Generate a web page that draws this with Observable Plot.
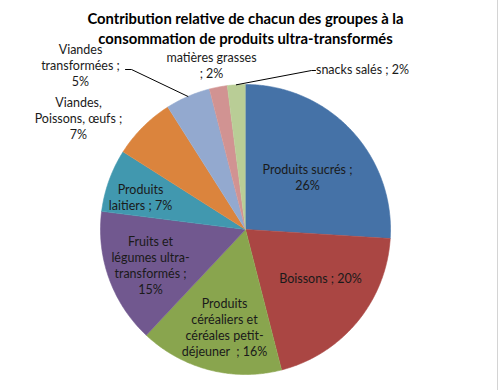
<!DOCTYPE html>
<html>
<head>
<meta charset="utf-8">
<script src="https://cdn.jsdelivr.net/npm/d3@7"></script>
<script src="https://cdn.jsdelivr.net/npm/@observablehq/plot@0.6"></script>
<style>
  html, body { margin: 0; padding: 0; background: #fff; }
  #wrap { position: relative; width: 499px; height: 390px; overflow: hidden; }
  #edge { position: absolute; left: 497px; top: 0; width: 1px; height: 390px; background: #d4d4d4; }
</style>
</head>
<body>
<div id="wrap"><div id="edge"></div></div>
<script>
// ---- data ----
const title = "Contribution relative de chacun des groupes à la\nconsommation de produits ultra-transformés";
const categories = [
  "Produits sucrés",
  "Boissons",
  "Produits céréaliers et céréales petit-déjeuner",
  "Fruits et légumes ultra-transformés",
  "Produits laitiers",
  "Viandes, Poissons, œufs",
  "Viandes transformées",
  "matières grasses",
  "snacks salés"
];
const values = [26, 20, 16, 15, 7, 7, 5, 2, 2];
const labelTexts = [
  "Produits sucrés ;\n26%",
  "Boissons ; 20%",
  "Produits\ncéréaliers et\ncéréales petit-\ndéjeuner  ; 16%",
  "Fruits et\nlégumes ultra-\ntransformés ;\n15%",
  "Produits\nlaitiers ; 7%",
  "Viandes,\nPoissons, œufs ;\n7%",
  "Viandes\ntransformées ;\n5%",
  "matières grasses\n; 2%",
  "snacks salés ; 2%"
];

// ---- style / layout ----
const colors = ["#4572A7", "#AA4643", "#89A54E", "#71588F", "#4198AF", "#DB843D", "#93A9CF", "#D19392", "#B9CD96"];
const W = 499, H = 390, CX = 245, CY = 229, R = 145;
const X = px => (px - CX) / R;
const Y = py => (CY - py) / R;
// label centres in pixels
const labelPos = [[307, 176], [320, 277], [224, 326], [150, 264], [140, 196], [78, 117], [80, 64], [211, 64], [362, 68]];
// leader lines: category index -> [elbow, label end] in pixels
const leaders = [
  {i: 6, pts: [[131, 69], [125, 69]]},
  {i: 8, pts: [[311, 70], [315, 70]]}
];

const rows = categories.map((c, i) => ({cat: c, value: values[i], label: labelTexts[i]}));
const arcs = d3.pie().sort(null).value(d => d.value)(rows);

const poly = [];
arcs.forEach(p => {
  const n = Math.max(2, Math.ceil((p.endAngle - p.startAngle) / (Math.PI / 360)));
  poly.push({cat: p.data.cat, x: 0, y: 0});
  for (let k = 0; k <= n; k++) {
    const a = p.startAngle + (p.endAngle - p.startAngle) * k / n;
    poly.push({cat: p.data.cat, x: Math.sin(a), y: Math.cos(a)});
  }
});

const labels = rows.map((d, i) => ({label: d.label, x: X(labelPos[i][0]), y: Y(labelPos[i][1])}));

const leaderPts = [];
leaders.forEach((l, j) => {
  const p = arcs[l.i];
  const mid = (p.startAngle + p.endAngle) / 2;
  leaderPts.push({g: j, x: Math.sin(mid), y: Math.cos(mid)});
  l.pts.forEach(q => leaderPts.push({g: j, x: X(q[0]), y: Y(q[1])}));
});

const chart = Plot.plot({
  width: W, height: H,
  margin: 0,
  x: {domain: [X(0), X(W)], axis: null},
  y: {domain: [Y(H), Y(0)], axis: null},
  color: {type: "ordinal", domain: categories, range: colors},
  style: {background: "transparent", fontFamily: "Lato, sans-serif"},
  marks: [
    Plot.line(poly, {x: "x", y: "y", z: "cat", fill: "cat", stroke: "cat", strokeWidth: 0.6}),
    Plot.line(leaderPts, {x: "x", y: "y", z: "g", stroke: "#000", strokeWidth: 1}),
    Plot.text(labels, {x: "x", y: "y", text: "label", fontSize: 12.5, lineHeight: 1.28, fill: "#1a1a1a", lineAnchor: "middle", textAnchor: "middle"}),
    Plot.text([title], {x: X(245), y: Y(27), text: d => d, fontSize: 14.8, fontWeight: "bold", lineHeight: 1.35, fill: "#000", lineAnchor: "middle"})
  ]
});
document.getElementById("wrap").prepend(chart);
</script>
</body>
</html>
